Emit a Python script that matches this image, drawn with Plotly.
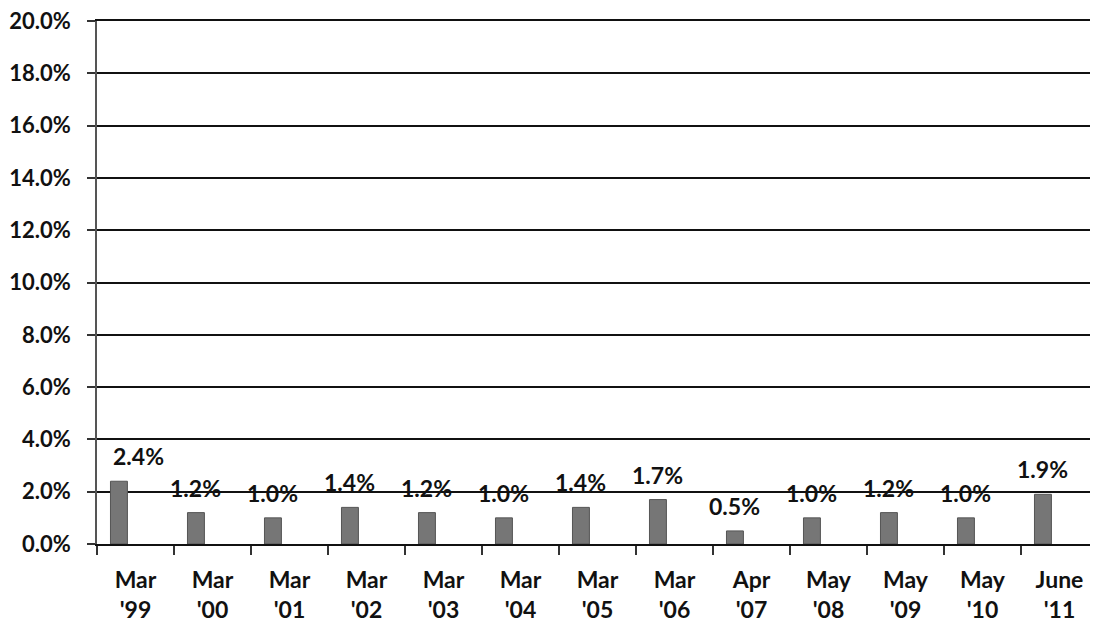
import plotly.graph_objects as go

categories = ["Mar<br>'99", "Mar<br>'00", "Mar<br>'01", "Mar<br>'02", "Mar<br>'03", "Mar<br>'04",
              "Mar<br>'05", "Mar<br>'06", "Apr<br>'07", "May<br>'08", "May<br>'09", "May<br>'10",
              "June<br>'11"]
values = [0.024, 0.012, 0.010, 0.014, 0.012, 0.010, 0.014, 0.017, 0.005, 0.010, 0.012, 0.010, 0.019]
labels = ["2.4%", "1.2%", "1.0%", "1.4%", "1.2%", "1.0%", "1.4%", "1.7%", "0.5%", "1.0%", "1.2%", "1.0%", "1.9%"]
y_ticks = [0.0, 0.02, 0.04, 0.06, 0.08, 0.10, 0.12, 0.14, 0.16, 0.18, 0.20]
y_tick_text = ["0.0%", "2.0%", "4.0%", "6.0%", "8.0%", "10.0%", "12.0%", "14.0%", "16.0%", "18.0%", "20.0%"]

# extra horizontal nudge of individual labels (px)
label_nudge = [20, 0, 0, 0, 0, 0, 0, 0, 0, 0, 0, 0, 0]

BAR_W = 0.22
BAR_OFF = -0.325
CAT_PX = 1001 / len(categories)

fig = go.Figure()
fig.add_trace(go.Bar(
    x=categories, y=values,
    width=BAR_W, offset=BAR_OFF,
    marker=dict(color="#767676", line=dict(color="#555555", width=1)),
    hoverinfo="skip",
))

for c, v, t, n in zip(categories, values, labels, label_nudge):
    fig.add_annotation(
        x=c, y=v, text="<b>" + t + "</b>", showarrow=False,
        xshift=(BAR_OFF + BAR_W / 2) * CAT_PX + n, yshift=25,
        yanchor="middle", xanchor="center",
        font=dict(family="Lato", size=23, color="#111111"),
    )

# page body adds an 8px margin, so the figure is 8px smaller on the left/top
fig.update_layout(
    width=1090, height=620,
    margin=dict(l=89, r=0, t=13, b=84, autoexpand=False),
    paper_bgcolor="white", plot_bgcolor="white",
    showlegend=False,
    font=dict(family="Lato", color="#111111", weight="bold"),
)
fig.update_xaxes(
    type="category",
    tickfont=dict(size=23, family="Lato", color="#111111", weight="bold"),
    ticks="outside", tickson="boundaries", ticklen=9, tickwidth=1.5, tickcolor="#333333",
    showline=True, linecolor="#111111", linewidth=2, mirror=True,
    ticklabelstandoff=14, ticklabeloverflow="allow",
    showgrid=False, zeroline=False, automargin=False,
)
fig.update_yaxes(
    range=[0, 0.2], tickvals=y_ticks, ticktext=y_tick_text,
    tickfont=dict(size=22, family="Lato", color="#111111", weight="bold"),
    showgrid=True, gridcolor="#111111", gridwidth=2,
    showline=True, linecolor="#555555", linewidth=1.5,
    ticks="outside", ticklen=8, tickcolor="#333333", tickwidth=1.5,
    ticklabelstandoff=12, ticklabeloverflow="allow",
    zeroline=False, automargin=False,
)

fig.write_html("out.html")
